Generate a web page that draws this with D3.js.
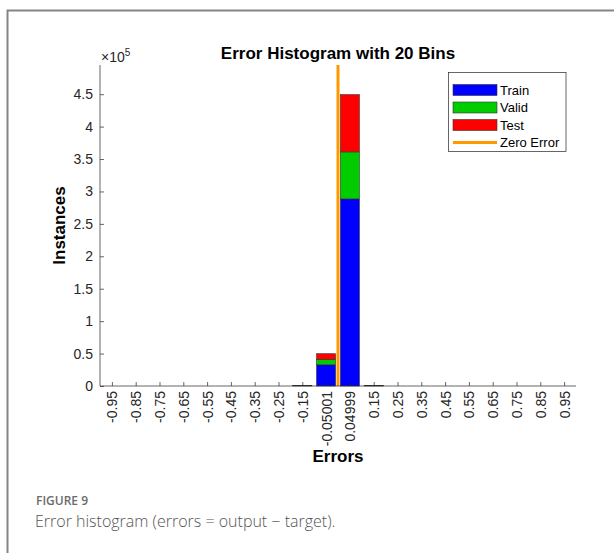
<!DOCTYPE html>
<html>
<head>
<meta charset="utf-8">
<script src="https://cdn.jsdelivr.net/npm/d3@7"></script>
<style>
  html, body { margin: 0; padding: 0; background: #fff; }
  svg { display: block; }
</style>
</head>
<body>
<svg id="chart" width="614" height="553"></svg>
<script>
// Bin centre labels of the 20-bin error histogram
const binLabels = ["-0.95","-0.85","-0.75","-0.65","-0.55","-0.45","-0.35","-0.25","-0.15",
  "-0.05001","0.04999","0.15","0.25","0.35","0.45","0.55","0.65","0.75","0.85","0.95"];

// Instance counts per bin for each data split
const trainCounts = [0,0,0,0,0,0,0,0,700,32700,288500,600,0,0,0,0,0,0,0,0];
const validCounts = [0,0,0,0,0,0,0,0,150,8300,72500,150,0,0,0,0,0,0,0,0];
const testCounts  = [0,0,0,0,0,0,0,0,150,8800,88300,150,0,0,0,0,0,0,0,0];

const yTicks = [0, 0.5, 1, 1.5, 2, 2.5, 3, 3.5, 4, 4.5];   // in units of 10^5
const yMax = 4.95;
const zeroErrorPos = 10;  // bin boundary at error = 0

const series = [
  { name: "Train", values: trainCounts, color: "#0000ff" },
  { name: "Valid", values: validCounts, color: "#00cc00" },
  { name: "Test",  values: testCounts,  color: "#ff0000" }
];

const svg = d3.select("#chart");
const font = "'Liberation Sans', Arial, Helvetica, sans-serif";
const axisColor = "#262626";

// Figure frame
svg.append("path")
  .attr("d", "M7.5,553 L7.5,10.5 L614,10.5")
  .attr("fill", "none").attr("stroke", "#858585").attr("stroke-width", 2);

const plotLeft = 100, plotRight = 576, plotTop = 65, plotBottom = 386;

const x = d3.scaleLinear().domain([0, binLabels.length]).range([plotLeft, plotRight]);
const y = d3.scaleLinear().domain([0, yMax]).range([plotBottom, plotTop]);

// Stacked bars
const rows = binLabels.map((b, i) => ({ i, Train: trainCounts[i] / 1e5, Valid: validCounts[i] / 1e5, Test: testCounts[i] / 1e5 }));
const stack = d3.stack().keys(series.map(s => s.name))(rows);
const bw = (x(1) - x(0)) * 0.8;

stack.forEach((layer, k) => {
  svg.append("g").selectAll("rect")
    .data(layer.filter(d => d[1] - d[0] > 0))
    .join("rect")
    .attr("x", d => x(d.data.i + 0.5) - bw / 2)
    .attr("width", bw)
    .attr("y", d => y(d[1]))
    .attr("height", d => y(d[0]) - y(d[1]))
    .attr("fill", series[k].color)
    .attr("stroke", "#333")
    .attr("stroke-width", 0.6);
});

// Zero error line
svg.append("line")
  .attr("x1", x(zeroErrorPos)).attr("x2", x(zeroErrorPos))
  .attr("y1", y(yMax)).attr("y2", y(0))
  .attr("stroke", "#ff9900").attr("stroke-width", 3);

// Y axis
const yAxis = d3.axisLeft(y).tickValues(yTicks).tickSize(-4).tickPadding(7)
  .tickFormat(d => d === 0 ? "0" : d3.format("~g")(d));
const gy = svg.append("g").attr("transform", `translate(${plotLeft},0)`).call(yAxis);
gy.select(".domain").attr("d", `M0,${plotTop}V${plotBottom}`).attr("stroke", axisColor).attr("stroke-width", 0.7);
gy.selectAll(".tick line").attr("stroke", axisColor).attr("stroke-width", 0.7);
gy.selectAll(".tick text").attr("font-family", font).attr("font-size", 14).attr("fill", axisColor);

// X axis
const xAxis = d3.axisBottom(x).tickValues(d3.range(binLabels.length).map(i => i + 0.5))
  .tickSize(-4).tickFormat((d, i) => binLabels[i]);
const gx = svg.append("g").attr("transform", `translate(0,${plotBottom})`).call(xAxis);
gx.select(".domain").attr("d", `M${plotLeft},0H${plotRight}`).attr("stroke", axisColor).attr("stroke-width", 0.7);
gx.selectAll(".tick line").attr("stroke", axisColor).attr("stroke-width", 0.7);
gx.selectAll(".tick text")
  .attr("font-family", font).attr("font-size", 14).attr("fill", axisColor)
  .attr("transform", "rotate(-90)")
  .attr("text-anchor", "end")
  .attr("x", -5).attr("y", 0).attr("dy", "0.35em");

// Exponent label
const expText = svg.append("text").attr("x", 101).attr("y", 62)
  .attr("font-family", font).attr("font-size", 14).attr("fill", axisColor);
expText.append("tspan").text("×10");
expText.append("tspan").attr("font-size", 10).attr("dy", -6).text("5");

// Title and axis labels
svg.append("text").attr("x", (plotLeft + plotRight) / 2).attr("y", 59)
  .attr("text-anchor", "middle").attr("font-family", font).attr("font-weight", "bold")
  .attr("font-size", 17).attr("fill", "#000").text("Error Histogram with 20 Bins");

svg.append("text").attr("x", (plotLeft + plotRight) / 2).attr("y", 462)
  .attr("text-anchor", "middle").attr("font-family", font).attr("font-weight", "bold")
  .attr("font-size", 17).attr("fill", "#000").text("Errors");

svg.append("text").attr("transform", `translate(65,${(plotTop + plotBottom) / 2}) rotate(-90)`)
  .attr("text-anchor", "middle").attr("font-family", font).attr("font-weight", "bold")
  .attr("font-size", 17).attr("fill", "#000").text("Instances");

// Legend
const lg = svg.append("g");
lg.append("rect").attr("x", 448.5).attr("y", 72.5).attr("width", 117.5).attr("height", 79)
  .attr("fill", "#fff").attr("stroke", "#262626").attr("stroke-width", 0.7);
const legendItems = series.map(s => ({ name: s.name, color: s.color, type: "patch" }))
  .concat([{ name: "Zero Error", color: "#ff9900", type: "line" }]);
legendItems.forEach((d, i) => {
  const cy = 90 + i * 17.5;
  if (d.type === "patch") {
    lg.append("rect").attr("x", 453).attr("y", cy - 5.5).attr("width", 44).attr("height", 11)
      .attr("fill", d.color).attr("stroke", "#333").attr("stroke-width", 0.6);
  } else {
    lg.append("line").attr("x1", 453).attr("x2", 497).attr("y1", cy).attr("y2", cy)
      .attr("stroke", d.color).attr("stroke-width", 3);
  }
  lg.append("text").attr("x", 500).attr("y", cy).attr("dy", "0.35em")
    .attr("font-family", font).attr("font-size", 13).attr("fill", "#000").text(d.name);
});

// Caption
svg.append("text").attr("x", 36).attr("y", 505)
  .attr("font-family", "'Open Sans', sans-serif").attr("font-size", 12).attr("font-weight", 600)
  .attr("fill", "#6b6b6b").text("FIGURE 9");
svg.append("text").attr("x", 35).attr("y", 527)
  .attr("font-family", "'Open Sans', sans-serif").attr("font-size", 16).attr("font-weight", 300)
  .attr("fill", "#555").text("Error histogram (errors = output − target).");
</script>
</body>
</html>
